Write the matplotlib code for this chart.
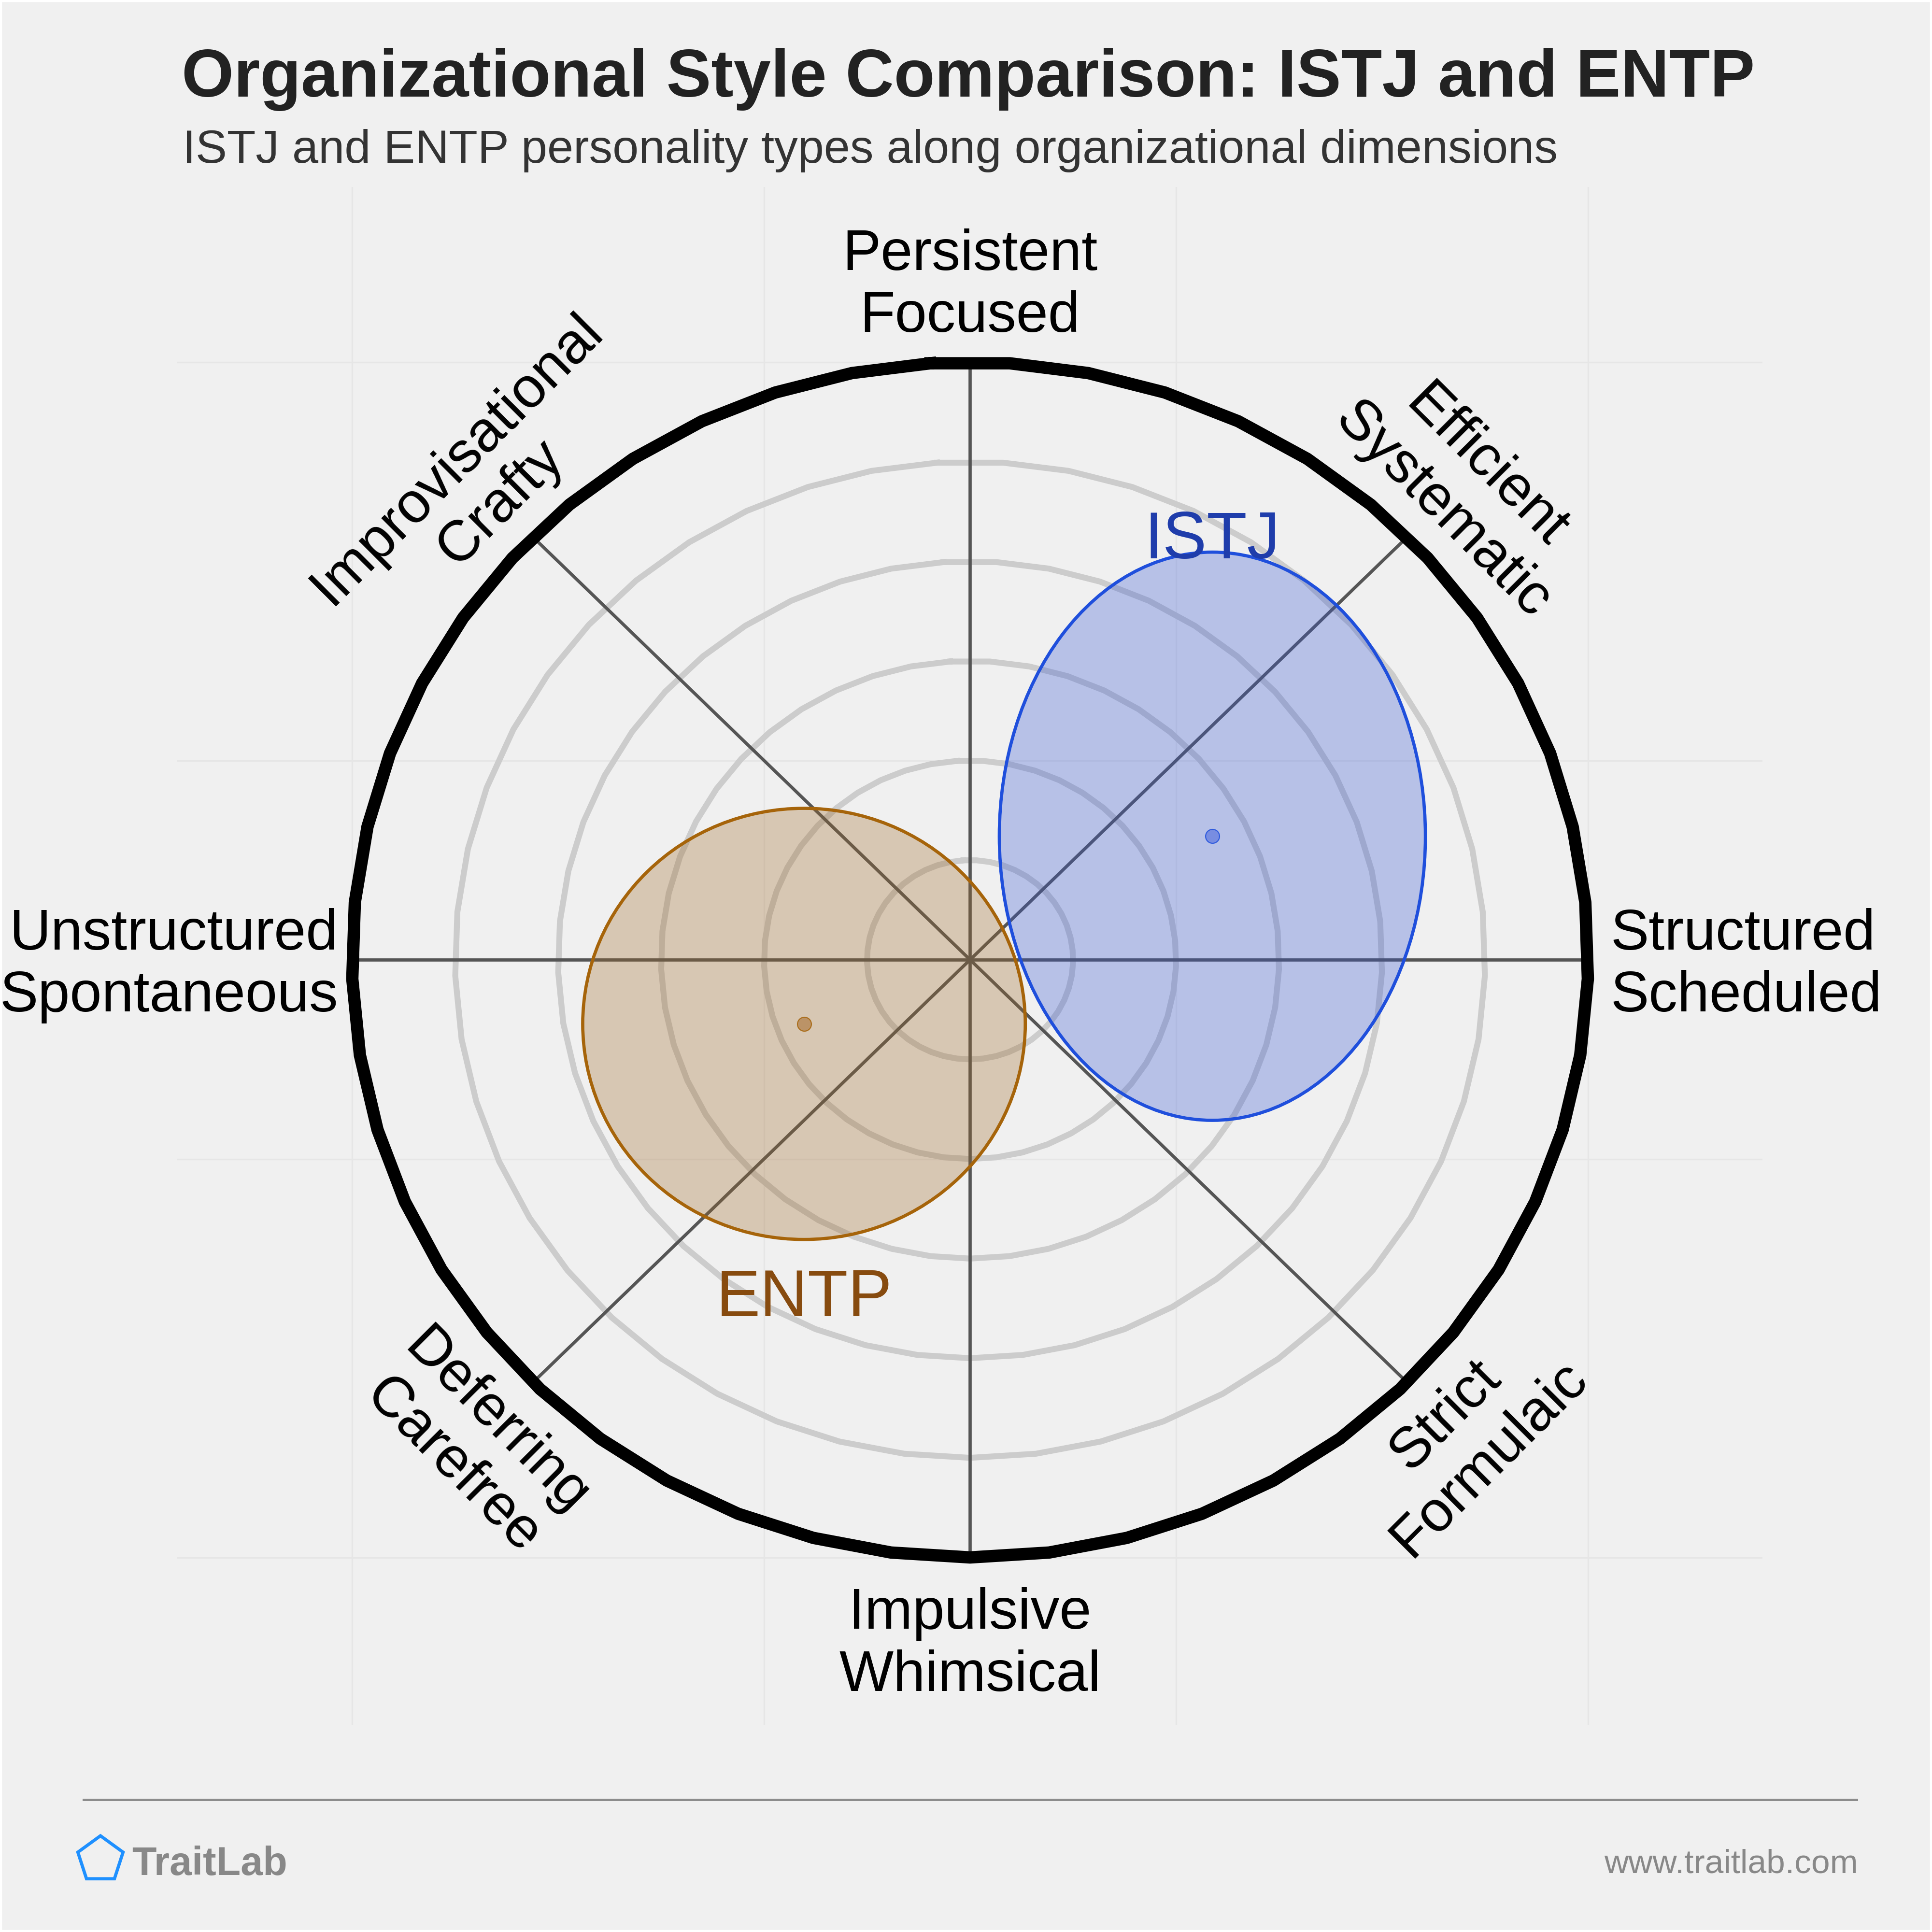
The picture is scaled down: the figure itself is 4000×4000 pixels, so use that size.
import numpy as np
import matplotlib.pyplot as plt
from matplotlib.patches import Ellipse, RegularPolygon, Rectangle
from matplotlib.lines import Line2D

plt.rcParams['font.family'] = ['Liberation Sans', 'DejaVu Sans']

title = 'Organizational Style Comparison: ISTJ and ENTP'
subtitle = 'ISTJ and ENTP personality types along organizational dimensions'

# dimensions around the circle (degrees, counter-clockwise from the right)
axis_angles = [0, 45, 90, 135, 180, 225, 270, 315]
axis_labels = ['Structured\nScheduled', 'Efficient\nSystematic', 'Persistent\nFocused',
               'Improvisational\nCrafty', 'Unstructured\nSpontaneous', 'Deferring\nCarefree',
               'Impulsive\nWhimsical', 'Strict\nFormulaic']
ring_radii = [0.25, 0.5, 0.75, 1.0, 1.25, 1.5]

# personality types: centre and spread
types = ['ISTJ', 'ENTP']
type_x = [0.588, -0.403]
type_y = [0.310, -0.161]
spread_x = [0.517, 0.537]
spread_y = [0.713, 0.541]

fill_cols = [(53/255, 87/255, 213/255), (160/255, 105/255, 40/255)]
edge_cols = ['#1f4fdc', '#a6640a']
text_cols = ['#1f3dab', '#874b0f']
dot_cols = ['#6d84e0', '#b68a5a']

bg = '#f0f0f0'
fig = plt.figure(figsize=(10, 10), dpi=400, facecolor=bg)
ax = fig.add_axes([0.09175, 0.10725, 0.8205, 0.7961])
ax.set_facecolor(bg)
ax.set_xlim(-1.924, 1.923)
ax.set_ylim(-1.92, 1.94)
for s in ax.spines.values():
    s.set_visible(False)
ax.set_xticks([])
ax.set_yticks([])

# faint background grid
for g in [-1.5, -0.5, 0.5, 1.5]:
    ax.axvline(g, color='#e6e6e6', lw=0.6, zorder=0)
    ax.axhline(g, color='#e6e6e6', lw=0.6, zorder=0)

# rings (drawn as 49-gons like the original)
theta = np.deg2rad(90 + (np.arange(50) + 0.5) * 360 / 49)
for r in ring_radii:
    if r == ring_radii[-1]:
        ax.plot(r * np.cos(theta), r * np.sin(theta), color='black', lw=4.6,
                solid_joinstyle='round', zorder=2)
    else:
        ax.plot(r * np.cos(theta), r * np.sin(theta), color='#cccccc', lw=2.2,
                solid_joinstyle='round', zorder=1)

# spokes
rmax = ring_radii[-1]
for a in axis_angles:
    t = np.deg2rad(a)
    ax.plot([0, rmax * np.cos(t)], [0, rmax * np.sin(t)], color='#555555', lw=1.2,
            solid_capstyle='butt', zorder=1.5)

# spoke labels
label_pos = {
    0: (1.555, -0.015, 0, 'left', 'center', 'left'),
    45: (1.199, 1.182, -45, 'center', 'center', 'center'),
    90: (0, 1.545, 0, 'center', 'bottom', 'center'),
    135: (-1.192, 1.201, 45, 'center', 'center', 'center'),
    180: (-1.533, -0.015, 0, 'right', 'center', 'right'),
    225: (-1.203, -1.216, -45, 'center', 'center', 'center'),
    270: (0, -1.575, 0, 'center', 'top', 'center'),
    315: (1.207, -1.199, 45, 'center', 'center', 'center'),
}
for a, lab in zip(axis_angles, axis_labels):
    x, y, rot, ha, va, ma = label_pos[a]
    ax.text(x, y, lab, fontsize=21.4, color='black', rotation=rot, ha=ha, va=va,
            multialignment=ma, rotation_mode='anchor', zorder=6)

# type regions
for i, name in enumerate(types):
    e = Ellipse((type_x[i], type_y[i]), 2 * spread_x[i], 2 * spread_y[i],
                facecolor=fill_cols[i] + (0.3,), edgecolor=edge_cols[i], lw=1.2, zorder=3)
    ax.add_patch(e)
    ax.plot(type_x[i], type_y[i], 'o', ms=5.2, color=dot_cols[i],
            mec=edge_cols[i], mew=0.4, alpha=0.85, zorder=4)

ax.text(type_x[0], type_y[0] + spread_y[0] - 0.016, types[0], fontsize=24.6,
        color=text_cols[0], ha='center', va='baseline', zorder=6)
ax.text(type_x[1], type_y[1] - spread_y[1] - 0.071, types[1], fontsize=24.6,
        color=text_cols[1], ha='center', va='top', zorder=6)

# titles
fig.text(0.094, 0.95, title, fontsize=25.0, fontweight='bold', color='#222222',
         ha='left', va='baseline')
fig.text(0.0945, 0.91575, subtitle, fontsize=17.5, color='#333333',
         ha='left', va='baseline')

# footer
fig.add_artist(Line2D([0.04325, 0.961], [0.0685, 0.0685], color='#8c8c8c', lw=0.9,
                      transform=fig.transFigure))
fig.add_artist(RegularPolygon((0.052, 0.0375), numVertices=5, radius=0.0123,
                              orientation=0, facecolor='none', edgecolor='#1e90ff',
                              lw=1.2, transform=fig.transFigure))
fig.text(0.06825, 0.0295, 'TraitLab', fontsize=14.9, fontweight='bold', color='#888888',
         ha='left', va='baseline')
fig.text(0.96175, 0.03075, 'www.traitlab.com', fontsize=12.5, color='#888888',
         ha='right', va='baseline')

fig.patches.append(Rectangle((0, 0), 1, 1, transform=fig.transFigure, fill=False,
                             edgecolor='white', lw=1.5))

fig.savefig('out.png', dpi=400, facecolor=bg)
